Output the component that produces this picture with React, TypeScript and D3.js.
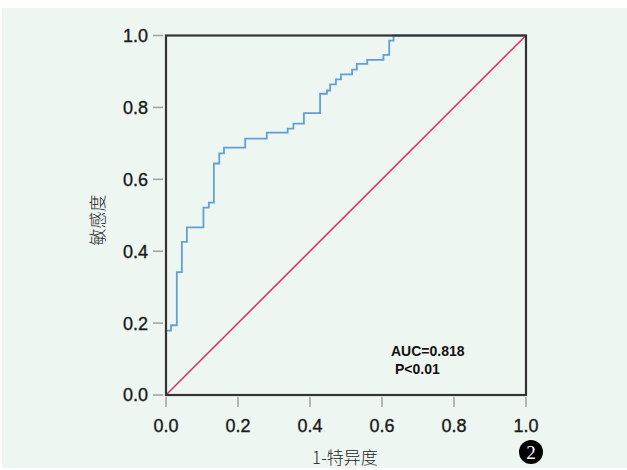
import React from "react";
import * as d3 from "d3";

// ROC step corners (1 - specificity, sensitivity)
const fpr = [0, 0.014, 0.030, 0.044, 0.058, 0.104, 0.119, 0.133, 0.148, 0.161, 0.220, 0.280, 0.338, 0.354, 0.383, 0.428, 0.447, 0.456, 0.472, 0.486, 0.517, 0.530, 0.559, 0.604, 0.620, 0.632, 1.0];
const tpr = [0, 0.179, 0.194, 0.342, 0.426, 0.466, 0.521, 0.535, 0.644, 0.672, 0.688, 0.713, 0.730, 0.741, 0.755, 0.784, 0.838, 0.847, 0.864, 0.878, 0.892, 0.905, 0.921, 0.932, 0.946, 0.986, 1.0];
const ticks = [0, 0.2, 0.4, 0.6, 0.8, 1.0];
const xTitle = "1-特异度";
const yTitle = "敏感度";
const aucText = "AUC=0.818";
const pText = "P<0.01";
const badge = "2";

export default function App() {
  const W = 627, H = 470;
  const left = 166, right = 526, top = 35.5, bottom = 395;
  const x = d3.scaleLinear().domain([0, 1]).range([left, right]);
  const y = d3.scaleLinear().domain([0, 1]).range([bottom, top]);
  const pts: [number, number][] = fpr.map((f, i) => [f, tpr[i]]);
  const roc = d3.line<[number, number]>().x(d => x(d[0])).y(d => y(d[1])).curve(d3.curveStepBefore)(pts) || "";
  const diag = d3.line<[number, number]>().x(d => x(d[0])).y(d => y(d[1]))([[0, 0], [1, 1]]) || "";
  const fmt = d3.format(".1f");
  const tickFont = "'Liberation Sans', Arial, sans-serif";
  return (
    <svg width={W} height={H} style={{ position: "absolute", left: 0, top: 0 }}>
      <rect x={0} y={0} width={W} height={H} fill="#ffffff" />
      <rect x={2} y={8} width={W - 2} height={H - 10} fill="#eef6f2" />
      {/* ticks */}
      {ticks.map(t => (
        <g key={"y" + t}>
          <line x1={153} x2={163} y1={y(t)} y2={y(t)} stroke="#a0a0a0" strokeWidth={1.5} />
          <text x={148} y={y(t)} dy="0.36em" textAnchor="end" fontFamily={tickFont} fontSize={18} fill="#1a1a1a" stroke="#1a1a1a" strokeWidth={0.35}>{fmt(t)}</text>
        </g>
      ))}
      {ticks.map(t => (
        <g key={"x" + t}>
          <line x1={x(t)} x2={x(t)} y1={397} y2={407} stroke="#a0a0a0" strokeWidth={1.5} />
          <text x={x(t)} y={432} textAnchor="middle" fontFamily={tickFont} fontSize={18} fill="#1a1a1a" stroke="#1a1a1a" strokeWidth={0.35}>{fmt(t)}</text>
        </g>
      ))}
      {/* curves */}
      <path d={diag} fill="none" stroke="#dc3760" strokeWidth={1.6} />
      <path d={roc} fill="none" stroke="#629fd6" strokeWidth={1.8} />
      {/* frame */}
      <rect x={left} y={top} width={right - left} height={bottom - top} fill="none" stroke="#333" strokeWidth={2.2} />
      {/* annotations */}
      <text x={391} y={356} fontFamily={tickFont} fontWeight="bold" fontSize={14} fill="#111">{aucText}</text>
      <text x={395} y={374} fontFamily={tickFont} fontWeight="bold" fontSize={14} fill="#111">{pText}</text>
      {/* axis titles */}
      <text transform="translate(104,220) rotate(-90)" textAnchor="middle" fontFamily="'Noto Sans CJK SC', sans-serif" fontWeight={300} fontSize={17} fill="#222">{yTitle}</text>
      <text x={345} y={464} textAnchor="middle" fontFamily="'Noto Sans CJK SC', sans-serif" fontWeight={300} fontSize={17} fill="#222">{xTitle}</text>
      {/* badge */}
      <circle cx={531} cy={452} r={12} fill="#000" />
      <text x={531} y={452} dy="0.36em" textAnchor="middle" fontFamily="'Liberation Serif', serif" fontSize={19} fill="#fff">{badge}</text>
    </svg>
  );
}
